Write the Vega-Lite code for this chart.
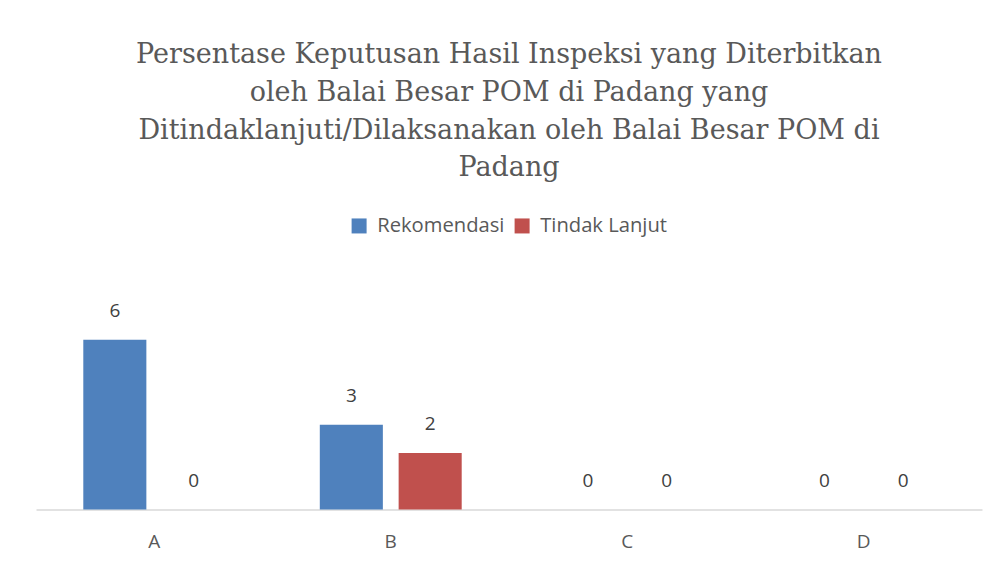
{
  "$schema": "https://vega.github.io/schema/vega-lite/v6.json",
  "autosize": {"type": "none"},
  "width": 946,
  "height": 198,
  "padding": {"left": 36, "top": 311.5, "right": 16, "bottom": 62.5},
  "background": "white",
  "title": {
    "text": ["Persentase Keputusan Hasil Inspeksi yang Diterbitkan", "oleh Balai Besar POM di Padang yang", "Ditindaklanjuti/Dilaksanakan oleh Balai Besar POM di", "Padang"],
    "font": "DejaVu Serif",
    "fontSize": 27,
    "fontWeight": "normal",
    "color": "#595959",
    "lineHeight": 37.7,
    "anchor": "middle",
    "frame": "group",
    "offset": 33
  },
  "config": {
    "view": {"stroke": null},
    "font": "Open Sans"
  },
  "data": {
    "values": [
      {"kategori": "A", "seri": "Rekomendasi", "nilai": 6},
      {"kategori": "A", "seri": "Tindak Lanjut", "nilai": 0},
      {"kategori": "B", "seri": "Rekomendasi", "nilai": 3},
      {"kategori": "B", "seri": "Tindak Lanjut", "nilai": 2},
      {"kategori": "C", "seri": "Rekomendasi", "nilai": 0},
      {"kategori": "C", "seri": "Tindak Lanjut", "nilai": 0},
      {"kategori": "D", "seri": "Rekomendasi", "nilai": 0},
      {"kategori": "D", "seri": "Tindak Lanjut", "nilai": 0}
    ]
  },
  "encoding": {
    "x": {
      "field": "kategori",
      "type": "nominal",
      "scale": {"paddingInner": 0.4, "paddingOuter": 0.2},
      "axis": {
        "title": null,
        "labelAngle": 0,
        "labelFont": "Open Sans",
        "labelFontSize": 19,
        "labelColor": "#595959",
        "labelPadding": 23,
        "ticks": false,
        "domainColor": "#d9d9d9",
        "domainWidth": 1.5,
        "grid": false
      }
    },
    "xOffset": {
      "field": "seri",
      "type": "nominal",
      "scale": {"paddingInner": 0.2, "paddingOuter": 0}
    },
    "y": {
      "field": "nilai",
      "type": "quantitative",
      "scale": {"domain": [0, 7], "nice": false},
      "axis": null
    }
  },
  "layer": [
    {
      "mark": {"type": "bar"},
      "encoding": {
        "color": {
          "field": "seri",
          "type": "nominal",
          "scale": {"domain": ["Rekomendasi", "Tindak Lanjut"], "range": ["#4f81bd", "#c0504d"]},
          "legend": {
            "title": null,
            "orient": "none",
            "direction": "horizontal",
            "legendX": 313,
            "legendY": -96,
            "symbolType": "square",
            "symbolSize": 225,
            "symbolStrokeWidth": 0,
            "labelFont": "Open Sans",
            "labelFontSize": 20.2,
            "labelColor": "#595959",
            "labelOffset": 8,
            "columnPadding": 7,
            "labelLimit": 300
          }
        }
      }
    },
    {
      "mark": {"type": "text", "baseline": "alphabetic", "dy": -22.5, "font": "Open Sans", "fontSize": 19, "color": "#404040"},
      "encoding": {
        "text": {"field": "nilai", "type": "quantitative"}
      }
    }
  ]
}
